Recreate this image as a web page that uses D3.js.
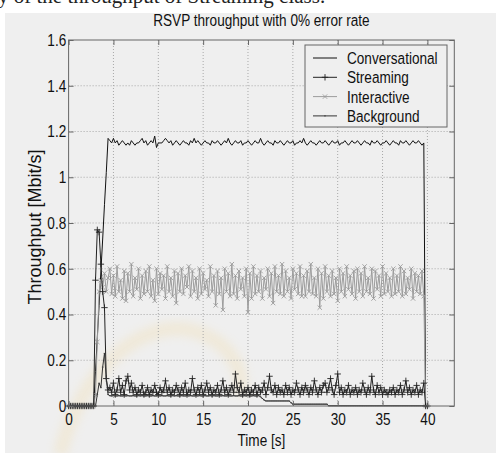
<!DOCTYPE html>
<html>
<head>
<meta charset="utf-8">
<script src="https://cdn.jsdelivr.net/npm/d3@7"></script>
<style>
  body { margin: 0; background: #fff; }
  svg text { font-family: "Liberation Sans", Arial, sans-serif; }
</style>
</head>
<body>
<svg id="chart" width="496" height="453"></svg>
<script>
// *** donnees (une valeur toutes les 0.2 s, de 0 a 40 s) ***
const step = 0.2;

const conversational = [
  0,0,0,0,0,0,0,0,0,0,0,0,0,0,0,
  0.15,0.30,0.44,0.59,0.73,0.88,1.02,1.17,
  1.16,1.15,1.17,1.15,1.16,1.14,1.15,1.16,1.15,1.14,1.15,1.14,1.16,1.15,1.14,1.15,1.15,1.16,1.17,1.15,
  1.16,1.14,1.15,1.16,1.15,1.18,1.13,1.15,1.15,1.15,1.16,1.17,1.16,1.15,1.16,1.14,1.15,1.16,1.15,1.14,
  1.15,1.16,1.15,1.15,1.14,1.16,1.15,1.17,1.15,1.16,1.15,1.14,1.15,1.16,1.15,1.15,1.14,1.16,1.15,1.15,
  1.16,1.15,1.14,1.15,1.16,1.15,1.17,1.15,1.14,1.15,1.16,1.15,1.15,1.16,1.14,1.15,1.15,1.16,1.15,1.14,
  1.15,1.16,1.15,1.15,1.17,1.15,1.14,1.15,1.16,1.15,1.15,1.14,1.16,1.15,1.15,1.16,1.15,1.14,1.15,1.16,
  1.15,1.15,1.16,1.14,1.15,1.15,1.16,1.15,1.17,1.15,1.14,1.15,1.16,1.15,1.15,1.14,1.15,1.16,1.15,1.15,
  1.16,1.15,1.14,1.15,1.16,1.15,1.15,1.16,1.14,1.15,1.15,1.16,1.15,1.14,1.15,1.16,1.15,1.15,1.16,1.15,
  1.14,1.15,1.16,1.15,1.15,1.14,1.16,1.15,1.15,1.16,1.15,1.14,1.15,1.15,1.16,1.15,1.14,1.15,1.16,1.15,
  1.15,1.14,1.16,1.15,1.15,1.16,1.15,1.14,1.15,1.16,1.15,1.15,1.16,1.15,1.14,1.15,
  0,0
];

const streaming = [
  0,0,0,0,0,0,0,0,0,0,0,0,0,0,0,
  0.55,0.77,0.76,0.62,0.50,0.43,0.12,0.07,
  0.08,0.06,0.10,0.05,0.07,0.12,0.06,0.09,0.05,0.11,0.13,0.07,0.10,0.06,0.08,0.05,0.07,0.06,0.09,0.05,
  0.06,0.08,0.05,0.07,0.06,0.09,0.06,0.05,0.08,0.06,0.07,0.11,0.06,0.08,0.05,0.07,0.06,0.09,0.07,0.05,
  0.08,0.06,0.10,0.05,0.07,0.06,0.12,0.07,0.05,0.08,0.06,0.09,0.05,0.07,0.10,0.06,0.08,0.05,0.07,0.06,
  0.09,0.05,0.07,0.11,0.06,0.08,0.05,0.07,0.09,0.06,0.14,0.08,0.06,0.10,0.05,0.07,0.06,0.08,0.05,0.07,
  0.06,0.09,0.05,0.08,0.06,0.07,0.10,0.05,0.08,0.13,0.07,0.06,0.09,0.05,0.08,0.06,0.07,0.05,0.09,0.06,
  0.08,0.05,0.07,0.06,0.10,0.07,0.05,0.08,0.06,0.09,0.07,0.05,0.08,0.06,0.11,0.07,0.05,0.08,0.06,0.09,
  0.10,0.06,0.08,0.12,0.07,0.05,0.09,0.14,0.06,0.08,0.05,0.07,0.06,0.09,0.05,0.07,0.06,0.08,0.05,0.07,
  0.06,0.10,0.07,0.05,0.08,0.06,0.13,0.07,0.05,0.09,0.06,0.08,0.05,0.07,0.06,0.05,0.07,0.06,0.08,0.05,
  0.07,0.06,0.09,0.05,0.07,0.11,0.06,0.08,0.05,0.07,0.06,0.09,0.05,0.07,0.06,0.10,
  0,0
];

const interactive = [
  0,0,0,0,0,0,0,0,0,0,0,0,0,0,0,
  0.05,0.28,0.50,0.55,0.52,0.58,0.50,0.56,
  0.60,0.49,0.57,0.48,0.61,0.50,0.55,0.47,0.59,0.46,0.58,0.50,0.62,0.48,0.56,0.51,0.60,0.47,0.57,0.49,
  0.59,0.50,0.61,0.48,0.55,0.46,0.60,0.49,0.58,0.51,0.57,0.47,0.61,0.50,0.56,0.48,0.59,0.45,0.58,0.50,
  0.60,0.49,0.57,0.52,0.61,0.48,0.59,0.50,0.56,0.47,0.60,0.49,0.58,0.51,0.55,0.48,0.61,0.50,0.57,0.44,
  0.59,0.49,0.56,0.42,0.60,0.50,0.58,0.48,0.62,0.49,0.57,0.47,0.59,0.51,0.56,0.48,0.60,0.41,0.58,0.47,
  0.61,0.49,0.57,0.50,0.59,0.47,0.56,0.51,0.60,0.48,0.58,0.45,0.61,0.50,0.57,0.49,0.62,0.48,0.59,0.50,
  0.56,0.47,0.60,0.51,0.58,0.49,0.61,0.48,0.57,0.48,0.59,0.50,0.62,0.49,0.56,0.48,0.60,0.43,0.58,0.47,
  0.61,0.50,0.57,0.48,0.59,0.49,0.56,0.46,0.60,0.50,0.58,0.48,0.61,0.51,0.57,0.49,0.59,0.47,0.60,0.50,
  0.58,0.48,0.61,0.50,0.56,0.49,0.60,0.47,0.59,0.51,0.57,0.48,0.61,0.49,0.58,0.50,0.56,0.48,0.60,0.49,
  0.57,0.50,0.61,0.48,0.59,0.49,0.56,0.51,0.60,0.47,0.58,0.50,0.57,0.49,0.59,0.48,
  0,0
];

const background = [
  0,0,0,0,0,0,0,0,0,0,0,0,0,0,0,0,
  0.05,0.10,0.08,0.17,0.23,0.12,0.05,
  0.045,0.044,0.045,0.044,0.044,0.045,0.044,0.044,0.045,0.044,0.045,0.044,
  0.044,0.045,0.044,0.044,0.045,0.044,0.045,0.044,0.044,0.045,0.044,0.044,
  0.045,0.044,0.044,0.045,0.044,0.045,0.044,0.044,0.045,0.044,0.044,0.045,
  0.044,0.045,0.044,0.044,0.045,0.044,0.044,0.045,0.044,0.045,0.044,0.044,
  0.045,0.044,0.045,0.044,0.044,0.045,0.044,0.044,0.045,0.044,0.045,0.044,
  0.044,0.045,0.044,0.045,0.044,0.044,0.045,0.044,0.044,0.045,0.044,0.044,
  0.045,0.044,0.044,0.045,0.044,0.045,0.044,0.044,0.045,0.044,0.044,0.045,
  0.040,0.033,0.026,
  0.022,0.022,0.022,0.022,0.022,0.022,0.022,0.022,0.022,0.022,0.022,0.022,0.022,0.022,
  0.014,
  0.008,0.008,0.008,0.008,0.008,0.008,0.008,0.008,0.008,0.008,
  0.008,0.008,0.008,0.008,0.008,0.008,0.008,0.008,0.008,0.008,
  0.001,0.001,0.001,0.001,0.001,0.001,0.001,0.001,0.001,0.001,0.001,0.001,0.001,0.001,
  0.001,0.001,0.001,0.001,0.001,0.001,0.001,0.001,0.001,0.001,0.001,0.001,0.001,0.001,
  0.001,0.001,0.001,0.001,0.001,0.001,0.001,0.001,0.001,0.001,0.001,0.001,0.001,0.001,
  0.001,0.001,0.001,0.001,0.001,0.001,0.001,0.001,0.001,0.001,0.001,0.001,0.001,0.001
];

const seriesNames = ["Conversational", "Streaming", "Interactive", "Background"];
const xTicks = [0, 5, 10, 15, 20, 25, 30, 35, 40];
const yTicks = [0, 0.2, 0.4, 0.6, 0.8, 1, 1.2, 1.4, 1.6];

// *** mise en page ***
const svg = d3.select("#chart");
const gauche = 68.6, droite = 454.3, haut = 40, bas = 406;
const x = d3.scaleLinear().domain([0, 43]).range([gauche, droite]);
const y = d3.scaleLinear().domain([0, 1.6]).range([bas, haut]);
const etroit = "scale(0.8,1)"; // le texte de la figure est compresse en largeur
const taille = "17px";

// fond de la figure + morceau de texte du document au dessus
svg.append("rect").attr("x", 5).attr("y", 13).attr("width", 491).attr("height", 440).attr("fill", "#efefef");
svg.append("text")
  .attr("x", -2).attr("y", 3)
  .style("font-family", "'Liberation Serif', serif")
  .style("font-size", "21px")
  .attr("fill", "#222")
  .text("y of the throughput of Streaming class.");

// filigrane jaune (tres leger)
svg.append("defs").append("filter").attr("id", "flou")
  .append("feGaussianBlur").attr("stdDeviation", 5);
svg.append("path")
  .attr("d", "M60,455 C80,370 140,320 190,330 C230,340 245,370 240,395")
  .attr("fill", "none")
  .attr("stroke", "#f3d48c")
  .attr("stroke-width", 14)
  .attr("opacity", 0.22)
  .attr("filter", "url(#flou)");

// grille pointillee
const grille = svg.append("g").attr("stroke", "#a8a8a8").attr("stroke-dasharray", "1,2").attr("stroke-width", 1);
xTicks.slice(1).forEach((t) => {
  grille.append("line").attr("x1", x(t)).attr("x2", x(t)).attr("y1", haut).attr("y2", bas);
});
yTicks.slice(1, -1).forEach((t) => {
  grille.append("line").attr("x1", gauche).attr("x2", droite).attr("y1", y(t)).attr("y2", y(t));
});

// *** courbes ***
const temps = (i) => i * step;
const ligne = d3.line().x((d, i) => x(temps(i))).y((d) => y(d));

const styles = {
  Conversational: { data: conversational, color: "#111", marker: null },
  Streaming: { data: streaming, color: "#222", marker: "M-3.2,0H3.2M0,-3.2V3.2" },
  Interactive: { data: interactive, color: "#9c9c9c", marker: "M-2.2,-2.2L2.2,2.2M-2.2,2.2L2.2,-2.2" },
  Background: { data: background, color: "#333", marker: "M-0.8,0H0.8" },
};

["Conversational", "Interactive", "Streaming", "Background"].forEach((nom) => {
  const s = styles[nom];
  svg.append("path")
    .datum(s.data)
    .attr("d", ligne)
    .attr("fill", "none")
    .attr("stroke", s.color)
    .attr("stroke-width", 1);
  if (s.marker) {
    svg.append("g")
      .selectAll("path")
      .data(s.data)
      .join("path")
      .attr("transform", (d, i) => `translate(${x(temps(i))},${y(d)})`)
      .attr("d", s.marker)
      .attr("fill", "none")
      .attr("stroke", s.color)
      .attr("stroke-width", 0.9);
  }
});

// *** axes (boite Matlab, graduations vers l'interieur) ***
const couleurAxe = "#666";
const styleAxe = (g) => {
  g.select(".domain").remove();
  g.selectAll(".tick line").attr("stroke", couleurAxe);
  g.selectAll(".tick text")
    .attr("fill", "#111")
    .style("font-size", taille)
    .attr("transform", etroit);
};

svg.append("g").attr("transform", `translate(0,${bas})`)
  .call(d3.axisBottom(x).tickValues(xTicks).tickSizeInner(-5).tickSizeOuter(0).tickPadding(7))
  .call(styleAxe);
svg.append("g").attr("transform", `translate(0,${haut})`)
  .call(d3.axisTop(x).tickValues(xTicks).tickSizeInner(-5).tickSizeOuter(0).tickFormat(""))
  .call(styleAxe);
svg.append("g").attr("transform", `translate(${gauche},0)`)
  .call(d3.axisLeft(y).tickValues(yTicks).tickSizeInner(-5).tickSizeOuter(0).tickPadding(3).tickFormat((d) => String(d)))
  .call(styleAxe);
svg.append("g").attr("transform", `translate(${droite},0)`)
  .call(d3.axisRight(y).tickValues(yTicks).tickSizeInner(-5).tickSizeOuter(0).tickFormat(""))
  .call(styleAxe);

svg.append("rect")
  .attr("x", gauche).attr("y", haut)
  .attr("width", droite - gauche).attr("height", bas - haut)
  .attr("fill", "none").attr("stroke", couleurAxe);

// titres
svg.append("g").attr("transform", `translate(${(gauche + droite) / 2},26)`)
  .append("text").attr("transform", etroit).attr("text-anchor", "middle")
  .style("font-size", taille).attr("fill", "#111")
  .text("RSVP throughput with 0% error rate");
svg.append("g").attr("transform", `translate(${(gauche + droite) / 2},446)`)
  .append("text").attr("transform", etroit).attr("text-anchor", "middle")
  .style("font-size", taille).attr("fill", "#111")
  .text("Time [s]");
svg.append("text")
  .attr("transform", `translate(41,227) rotate(-90)`)
  .attr("text-anchor", "middle")
  .style("font-size", "18px").attr("fill", "#111")
  .text("Throughput [Mbit/s]");

// *** legende ***
const legende = svg.append("g");
legende.append("rect")
  .attr("x", 305).attr("y", 45).attr("width", 142).attr("height", 82)
  .attr("fill", "#efefef").attr("stroke", couleurAxe);
seriesNames.forEach((nom, i) => {
  const s = styles[nom];
  const ly = 58 + i * 19.3;
  legende.append("line")
    .attr("x1", 313).attr("x2", 337).attr("y1", ly).attr("y2", ly)
    .attr("stroke", s.color);
  if (s.marker) {
    legende.append("path")
      .attr("transform", `translate(325,${ly})`)
      .attr("d", s.marker)
      .attr("fill", "none").attr("stroke", s.color).attr("stroke-width", 0.9);
  }
  legende.append("g").attr("transform", `translate(347,${ly + 6})`)
    .append("text").attr("transform", etroit)
    .style("font-size", taille).attr("fill", "#111")
    .text(nom);
});
</script>
</body>
</html>
